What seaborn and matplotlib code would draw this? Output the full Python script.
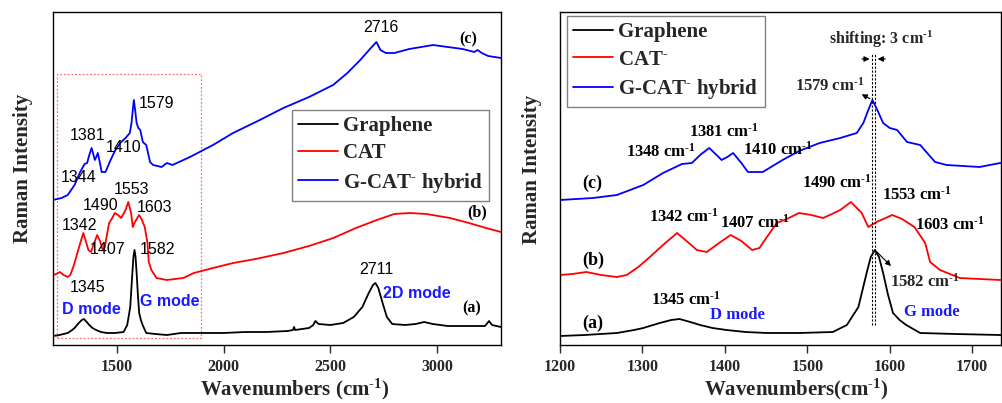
import matplotlib
matplotlib.use("Agg")
import matplotlib.pyplot as plt
from matplotlib.patches import Rectangle
from matplotlib.font_manager import FontProperties
import seaborn as sns

# ---------------- spectra (Raman shift in cm^-1, intensity in a.u.) ----------------
graphene_wn = [1200, 1230, 1269, 1290, 1301, 1321, 1335, 1345, 1358, 1370, 1385, 1402,
               1425, 1451, 1490, 1531, 1548, 1562, 1572, 1577, 1582, 1587, 1592, 1598,
               1604, 1612, 1620, 1637, 1680, 1734, 1800, 1900, 2000, 2100, 2200, 2300,
               2325, 2330, 2335, 2400, 2420, 2430, 2445, 2500, 2560, 2610, 2650, 2680,
               2700, 2711, 2725, 2745, 2765, 2790, 2850, 2900, 2940, 2980, 3050, 3150,
               3225, 3244, 3258, 3300]
graphene_int = [9, 10, 12, 15, 17, 22, 25, 26, 23, 20, 17, 15,
                13, 12, 12, 13, 20, 38, 72, 88, 95, 88, 72, 50,
                32, 25, 20, 12, 11, 10, 12, 12, 12, 13, 13, 14,
                15, 18, 15, 17, 20, 24, 21, 20, 22, 28, 38, 52,
                60, 62, 57, 42, 28, 21, 20, 21, 23, 21, 19, 19,
                19, 24, 20, 18]

cat_wn = [1200, 1215, 1232, 1250, 1269, 1281, 1295, 1309, 1325, 1342, 1355, 1366,
          1378, 1393, 1407, 1420, 1433, 1442, 1451, 1463, 1475, 1490, 1505, 1519,
          1530, 1540, 1553, 1566, 1574, 1584, 1595, 1603, 1615, 1630, 1643, 1649,
          1661, 1685, 1734, 1811, 1860, 1950, 2045, 2150, 2280, 2400, 2514, 2620,
          2718, 2800, 2873, 2950, 3061, 3150, 3230, 3300]
cat_int = [70, 71, 73, 70, 68, 70, 78, 88, 100, 112, 103, 95,
           93, 102, 110, 104, 95, 97, 108, 122, 126, 132, 130, 127,
           131, 135, 143, 132, 118, 123, 127, 130, 126, 118, 102, 83,
           75, 67, 65, 67, 72, 77, 82, 86, 92, 99, 107, 117,
           125, 131, 132, 131, 127, 122, 117, 113]

hybrid_wn = [1200, 1240, 1269, 1301, 1325, 1348, 1360, 1370, 1381, 1390, 1396, 1403,
             1410, 1420, 1428, 1446, 1470, 1490, 1515, 1540, 1560, 1568, 1574, 1579,
             1585, 1592, 1600, 1609, 1621, 1637, 1655, 1669, 1709, 1734, 1760, 1842,
             1950, 2044, 2160, 2280, 2400, 2513, 2580, 2640, 2690, 2716, 2735, 2760,
             2800, 2870, 2982, 3050, 3120, 3175, 3190, 3210, 3240, 3300]
hybrid_int = [145, 147, 150, 160, 172, 181, 182, 190, 197, 190, 185, 188,
              192, 182, 173, 173, 185, 194, 202, 207, 212, 222, 235, 245,
              235, 222, 217, 215, 203, 200, 183, 180, 178, 182, 180, 188,
              200, 212, 224, 237, 248, 260, 272, 285, 297, 303, 295, 292,
              292, 296, 300, 298, 296, 293, 295, 292, 289, 287]

sup_minus = r"$^{\text{-}}$"
inv_cm = r" cm$^{\text{-1}}$"
legend_left = ["Graphene", "CAT", "G-CAT" + sup_minus + " hybrid"]
legend_right = ["Graphene", "CAT" + sup_minus, "G-CAT" + sup_minus + " hybrid"]
colors = ["black", "#ff0000", "#0000ff"]

# peak labels: (text, x, y)
peaks_left = [("2716", 2737, 317), ("1579", 1683, 242), ("1381", 1364, 209),
              ("1410", 1533, 197), ("1344", 1322, 168), ("1553", 1570, 155),
              ("1490", 1425, 140), ("1603", 1678, 137), ("1342", 1322, 120),
              ("1407", 1458, 95), ("1582", 1688, 95), ("1345", 1364, 58),
              ("2711", 2714, 75)]
modes_left = [("2D mode", 2906, 52), ("D mode", 1378, 36), ("G mode", 1748, 44)]
tags_left = [("(c)", 3145, 306), ("(b)", 3188, 133), ("(a)", 3164, 37)]

peaks_right = [("1381", 1399, 213), ("1348", 1322, 193), ("1410", 1464, 195),
               ("1490", 1536, 162), ("1553", 1633, 150), ("1342", 1350, 128),
               ("1407", 1437, 122), ("1603", 1673, 120), ("1345", 1353, 45)]
modes_right = [("D mode", 1415, 30), ("G mode", 1651, 33)]
tags_right = [("(c)", 1239, 162), ("(b)", 1240, 85), ("(a)", 1240, 22)]

# ---------------- style ----------------
sns.set_style("ticks")
plt.rcParams["font.family"] = ["Liberation Serif", "DejaVu Serif"]
plt.rcParams["font.weight"] = "bold"
plt.rcParams["axes.labelweight"] = "bold"
plt.rcParams["mathtext.fontset"] = "custom"
plt.rcParams["mathtext.rm"] = "Liberation Serif:bold"
plt.rcParams["mathtext.bf"] = "Liberation Serif:bold"
plt.rcParams["mathtext.it"] = "Liberation Serif:bold"

fig = plt.figure(figsize=(10.02, 4.03), dpi=100)
ax1 = fig.add_axes([53 / 1002, 58 / 403, 448 / 1002, 333 / 403])
ax2 = fig.add_axes([560 / 1002, 58 / 403, 441 / 1002, 333 / 403])

series = [(graphene_wn, graphene_int), (cat_wn, cat_int), (hybrid_wn, hybrid_int)]
for ax, labels in ((ax1, legend_left), (ax2, legend_right)):
    for (wn, inten), c, lab in zip(series, colors, labels):
        sns.lineplot(x=wn, y=inten, ax=ax, color=c, lw=1.3, label=lab,
                     sort=False, estimator=None)
    ax.set_ylim(0, 333)
    ax.set_yticks([])
    ax.tick_params(axis="x", direction="out", length=6, width=1, pad=4,
                   labelsize=11.5)
    for lbl in ax.get_xticklabels():
        lbl.set_fontweight("bold")
    for s in ax.spines.values():
        s.set_linewidth(1.0)
        s.set_color("black")
    ax.set_ylabel("Raman Intensity", fontsize=15)

legend_font = FontProperties(family="Liberation Serif", weight="bold", size=15)
leg_kw = dict(prop=legend_font, loc="upper left", borderaxespad=0, fancybox=False,
              framealpha=1, edgecolor="#808080", handlelength=1.9,
              handletextpad=0.25, borderpad=0.3, labelspacing=0.35)

# ---------------- left panel: full range ----------------
ax1.set_xlim(1200, 3300)
ax1.set_xticks([1500, 2000, 2500, 3000])
ax1.set_xlabel("Wavenumbers" + " (cm" + r"$^{\text{-1}}$" + ")", fontsize=15)
ax1.xaxis.set_label_coords(0.54, -0.095)
ax1.yaxis.set_label_coords(-0.045, 0.53)
leg = ax1.legend(bbox_to_anchor=(0.533, 0.706), **leg_kw)
leg.get_frame().set_linewidth(1.0)

ax1.add_patch(Rectangle((1219, 7), 1894 - 1219, 271 - 7, fill=False,
                        edgecolor="#ff7070", lw=0.9, ls=(0, (1.5, 1.5))))
for t, x, y in peaks_left:
    ax1.text(x, y, t, ha="center", va="center", fontsize=11.5,
             family="Liberation Sans", fontweight="normal", color="black")
for t, x, y in modes_left:
    ax1.text(x, y, t, ha="center", va="center", fontsize=11.5,
             family="Liberation Sans", fontweight="bold", color="#1a1aff")
for t, x, y in tags_left:
    ax1.text(x, y, t, ha="center", va="center", fontsize=11.5, color="black")

# ---------------- right panel: zoom on D and G region ----------------
ax2.set_xlim(1200, 1735)
ax2.set_xticks([1200, 1300, 1400, 1500, 1600, 1700])
ax2.set_xlabel("Wavenumbers(cm" + r"$^{\text{-1}}$" + ")", fontsize=15)
ax2.xaxis.set_label_coords(0.535, -0.095)
ax2.yaxis.set_label_coords(-0.041, 0.526)
leg = ax2.legend(bbox_to_anchor=(0.016, 0.988), **leg_kw)
leg.get_frame().set_linewidth(1.0)

for t, x, y in peaks_right:
    ax2.text(x, y, t + inv_cm, ha="center", va="center", fontsize=12, color="black")
for t, x, y in modes_right:
    ax2.text(x, y, t, ha="center", va="center", fontsize=12, color="#1a1aff")
for t, x, y in tags_right:
    ax2.text(x, y, t, ha="center", va="center", fontsize=13, color="black")

# G-band shift markers
g_hybrid, g_graphene = 1579, 1582
for g in (g_hybrid, g_graphene):
    ax2.plot([g, g], [20, 292], color="black", lw=0.8, ls=(0, (2, 1.5)))
arrow_kw = dict(arrowstyle="-|>", color="black", lw=0.8, mutation_scale=8)
ax2.annotate("", xy=(g_hybrid, 286), xytext=(g_hybrid - 16, 286), arrowprops=arrow_kw)
ax2.annotate("", xy=(g_graphene, 286), xytext=(g_graphene + 16, 286), arrowprops=arrow_kw)
ax2.text(1589, 306, "shifting: 3" + inv_cm, ha="center", va="center", fontsize=11.5)

ax2.annotate("", xy=(1563, 252), xytext=(g_hybrid, 245), arrowprops=arrow_kw)
ax2.text(1527, 259, "1579" + inv_cm, ha="center", va="center", fontsize=12)
ax2.annotate("", xy=(1604, 77), xytext=(g_graphene, 95), arrowprops=arrow_kw)
ax2.text(1643, 63, "1582" + inv_cm, ha="center", va="center", fontsize=12)

fig.savefig("out.png", dpi=100, facecolor="white")
